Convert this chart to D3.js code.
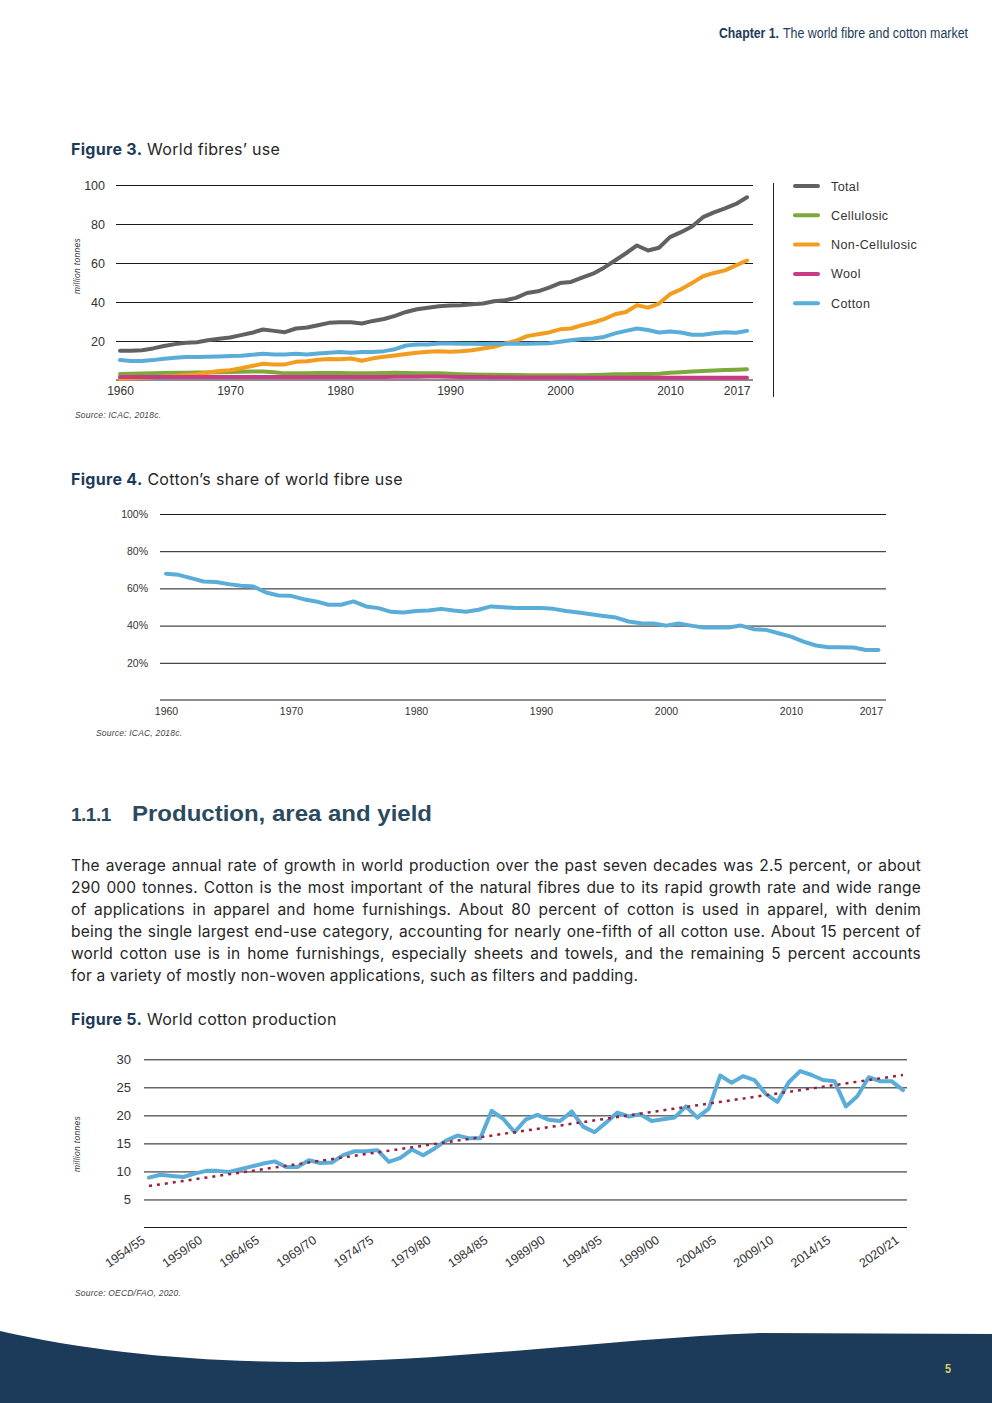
<!DOCTYPE html>
<html lang="en">
  <head>
    <meta http-equiv="Content-Type" content="text/html; charset=utf-8"/>
    <script src="https://cdn.jsdelivr.net/npm/d3@7"></script>
    <style>
body {
  margin: 0;
  background: #fff;
}
#page {
  position: relative;
  width: 992px;
  height: 1403px;
  overflow: hidden;
}
text {
  font-family: "Liberation Sans", Arial, sans-serif;
}
.tick text {
  fill: #333;
}
.tick line {
  stroke: #1a1a1a;
}
.body-text {
  font-family: Inter, "Noto Sans", sans-serif;
  fill: #262626;
}
.source {
  font-size: 8.5px;
  font-style: italic;
  fill: #444;
  letter-spacing: 0.2px;
}
    </style>
  </head>
  <body>
    <div id="page"><svg id="sheet" width="992" height="1403"></svg></div>
    <script>

// Figure 3 - world fibres' use, million tonnes, 1960..2017
var years = d3.range(1960, 2018);
var totalUse = [15.0, 15.0, 15.3, 16.2, 17.4, 18.4, 19.1, 19.4, 20.4, 21.1,
  21.8, 23.0, 24.2, 25.9, 25.2, 24.5, 26.4, 26.9, 28.1, 29.3,
  29.6, 29.6, 29.0, 30.3, 31.3, 32.9, 34.9, 36.3, 37.1, 37.8,
  38.2, 38.3, 38.8, 39.2, 40.4, 40.9, 42.1, 44.6, 45.5, 47.4,
  49.7, 50.3, 52.5, 54.5, 57.6, 61.3, 65.0, 69.0, 66.4, 67.8,
  73.3, 75.8, 78.7, 83.5, 86.0, 88.0, 90.3, 93.7];
var cellulosic = [3.1, 3.2, 3.3, 3.5, 3.6, 3.7, 3.7, 3.8, 3.9, 4.0,
  4.1, 4.2, 4.4, 4.4, 4.0, 3.4, 3.5, 3.5, 3.6, 3.6,
  3.6, 3.5, 3.4, 3.5, 3.6, 3.7, 3.6, 3.5, 3.5, 3.4,
  3.2, 3.0, 2.8, 2.7, 2.7, 2.6, 2.6, 2.5, 2.4, 2.4,
  2.4, 2.4, 2.5, 2.6, 2.7, 2.9, 3.0, 3.1, 3.1, 3.2,
  3.7, 4.0, 4.3, 4.6, 4.9, 5.1, 5.3, 5.5];
var nonCellulosic = [0.7, 0.9, 1.1, 1.4, 1.8, 2.1, 2.6, 3.0, 3.8, 4.6,
  5.0, 6.0, 7.2, 8.3, 8.0, 8.0, 9.3, 9.6, 10.4, 10.8,
  10.6, 11.0, 9.9, 11.1, 11.9, 12.6, 13.3, 14.0, 14.5, 14.7,
  14.5, 14.8, 15.3, 16.2, 17.0, 18.7, 20.1, 22.5, 23.5, 24.4,
  26.0, 26.4, 28.1, 29.5, 31.2, 33.7, 34.9, 38.3, 37.1, 39.2,
  44.0, 46.5, 49.7, 53.2, 54.9, 56.2, 58.8, 61.3];
var wool = [1.5, 1.5, 1.5, 1.5, 1.5, 1.5, 1.6, 1.6, 1.6, 1.6,
  1.6, 1.6, 1.6, 1.5, 1.5, 1.5, 1.5, 1.6, 1.6, 1.6,
  1.6, 1.6, 1.6, 1.6, 1.6, 1.7, 1.7, 1.7, 1.8, 1.8,
  1.7, 1.6, 1.5, 1.5, 1.4, 1.4, 1.3, 1.3, 1.3, 1.3,
  1.3, 1.3, 1.2, 1.2, 1.2, 1.2, 1.2, 1.2, 1.1, 1.1,
  1.1, 1.1, 1.1, 1.1, 1.1, 1.1, 1.1, 1.1];
var cottonUse = [10.2, 9.7, 9.7, 10.2, 10.9, 11.4, 11.8, 11.8, 11.9, 12.1,
  12.3, 12.4, 12.9, 13.5, 13.1, 13.1, 13.5, 13.1, 13.6, 14.0,
  14.3, 14.0, 14.3, 14.3, 14.8, 15.8, 17.7, 18.2, 18.2, 18.7,
  18.7, 18.6, 18.6, 18.5, 18.6, 18.6, 18.7, 18.6, 18.7, 18.9,
  19.6, 20.4, 21.0, 21.3, 22.1, 23.9, 25.2, 26.4, 25.6, 24.4,
  24.9, 24.4, 23.2, 23.2, 24.0, 24.5, 24.2, 25.2];
var fibreNames = ["Total", "Cellulosic", "Non-Cellulosic", "Wool", "Cotton"];
var fibreColors = ["#616161", "#7da83b", "#f29d1f", "#c93a84", "#5aadd8"];
var useTicks = [20, 40, 60, 80, 100];
var yearTicks = [1960, 1970, 1980, 1990, 2000, 2010, 2017];

// Figure 4 - cotton share of world fibre use, percent
var cottonShare = [67.9, 67.3, 65.5, 63.7, 63.4, 62.3, 61.4, 61.0, 57.8, 56.2,
  56.0, 54.2, 53.0, 51.2, 51.2, 53.0, 50.3, 49.4, 47.4, 47.0,
  47.9, 48.1, 49.0, 48.1, 47.4, 48.5, 50.3, 49.9, 49.4, 49.4,
  49.4, 49.0, 47.9, 47.0, 46.1, 45.2, 44.3, 42.2, 41.3, 41.1,
  40.0, 41.1, 40.0, 39.0, 39.0, 39.0, 40.0, 38.1, 37.7, 35.9,
  34.1, 31.4, 29.3, 28.4, 28.4, 28.2, 26.9, 26.9];
var shareTicks = [20, 40, 60, 80, 100];

// Figure 5 - world cotton production, million tonnes, 1954/55..2020/21
var seasons = d3.range(1954, 2021).map(function(y) {
  return y + "/" + String((y + 1) % 100).padStart(2, "0");
});
var production = [8.9, 9.4, 9.2, 9.0, 9.6, 10.1, 10.1, 9.9, 10.4, 10.9,
  11.4, 11.8, 10.8, 10.8, 12.0, 11.5, 11.6, 12.9, 13.6, 13.6,
  13.8, 11.7, 12.4, 13.9, 12.9, 14.1, 15.5, 16.4, 15.9, 15.9,
  20.8, 19.4, 17.0, 19.3, 20.1, 19.2, 19.0, 20.7, 18.0, 17.0,
  18.7, 20.5, 19.8, 20.2, 19.0, 19.3, 19.6, 21.6, 19.6, 21.2,
  27.1, 25.8, 27.0, 26.3, 23.8, 22.4, 25.9, 27.9, 27.2, 26.3,
  26.1, 21.6, 23.4, 26.8, 26.1, 26.1, 24.5];
var trendEnds = [7.4, 27.2];
var prodTicks = [5, 10, 15, 20, 25, 30];
var seasonTicks = ["1954/55", "1959/60", "1964/65", "1969/70", "1974/75", "1979/80",
  "1984/85", "1989/90", "1994/95", "1999/00", "2004/05", "2009/10", "2014/15", "2020/21"];

var paragraph = [
  "The average annual rate of growth in world production over the past seven decades was 2.5 percent, or about",
  "290 000 tonnes. Cotton is the most important of the natural fibres due to its rapid growth rate and wide range",
  "of applications in apparel and home furnishings. About 80 percent of cotton is used in apparel, with denim",
  "being the single largest end-use category, accounting for nearly one-fifth of all cotton use. About 15 percent of",
  "world cotton use is in home furnishings, especially sheets and towels, and the remaining 5 percent accounts",
  "for a variety of mostly non-woven applications, such as filters and padding."
];

var svg = d3.select("#sheet");
var navy = "#1c3a5a";
var condensed = "'DejaVu Sans Condensed', 'Liberation Sans Narrow', Roboto, sans-serif";

// ---- page header ----
svg.append("text")
  .attr("x", 719).attr("y", 38)
  .attr("font-family", condensed)
  .attr("font-size", 14).attr("font-weight", "bold")
  .attr("fill", navy)
  .attr("textLength", 60).attr("lengthAdjust", "spacingAndGlyphs")
  .text("Chapter 1.");
svg.append("text")
  .attr("x", 783).attr("y", 38)
  .attr("font-family", condensed)
  .attr("font-size", 14)
  .attr("fill", navy)
  .attr("textLength", 185).attr("lengthAdjust", "spacingAndGlyphs")
  .text("The world fibre and cotton market");

function figureTitle(num, rest, y) {
  var t = svg.append("text")
    .attr("class", "body-text")
    .attr("x", 71).attr("y", y)
    .attr("font-size", 16)
    .attr("letter-spacing", 0.3);
  t.append("tspan").attr("font-weight", "bold").attr("fill", navy).text("Figure " + num + ".");
  t.append("tspan").text(" " + rest);
}

function source(label, x, y) {
  svg.append("text").attr("class", "source").attr("x", x).attr("y", y).text(label);
}

function yTitle(x, y) {
  svg.append("text")
    .attr("transform", "translate(" + x + "," + y + ") rotate(-90)")
    .attr("text-anchor", "middle")
    .attr("font-size", 8.5)
    .attr("font-style", "italic")
    .attr("letter-spacing", 0.3)
    .attr("fill", "#333")
    .text("million tonnes");
}

function gridAxis(g, scale, ticks, x0, x1, fmt, fontSize, pad) {
  g.attr("transform", "translate(" + x0 + ",0)")
    .call(d3.axisLeft(scale).tickValues(ticks).tickSize(-(x1 - x0)).tickPadding(pad).tickFormat(fmt))
    .call(function(a) { a.select(".domain").remove(); })
    .call(function(a) {
      a.selectAll(".tick text").attr("font-size", fontSize)
        .attr("font-family", "'Liberation Sans', Arial, sans-serif");
    });
  svg.append("line")
    .attr("x1", x0).attr("x2", x1)
    .attr("y1", scale(0)).attr("y2", scale(0))
    .attr("stroke", "#1a1a1a");
}

// ---- Figure 3 ----
figureTitle(3, "World fibres\u2019 use", 155);

var x3 = d3.scaleLinear().domain([1960, 2017]).range([120, 747]);
var y3 = d3.scaleLinear().domain([0, 100]).range([380, 185]);

gridAxis(svg.append("g"), y3, useTicks, 116, 753, d3.format("d"), 12.5, 11);

var xa3 = svg.append("g")
  .attr("transform", "translate(0," + y3(0) + ")")
  .call(d3.axisBottom(x3).tickValues(yearTicks).tickSize(0).tickPadding(6).tickFormat(d3.format("d")));
xa3.select(".domain").remove();
xa3.selectAll(".tick text").attr("font-size", 12)
  .attr("font-family", "'Liberation Sans', Arial, sans-serif")
  .filter(function(d) { return d === 2017; })
  .attr("text-anchor", "end").attr("x", 3);

yTitle(80, 266);

var fibreSeries = [totalUse, cellulosic, nonCellulosic, wool, cottonUse];
var line3 = d3.line()
  .x(function(d, i) { return x3(years[i]); })
  .y(function(d) { return y3(d); });

svg.append("g").selectAll("path")
  .data(fibreSeries)
  .enter().append("path")
  .attr("d", line3)
  .attr("fill", "none")
  .attr("stroke", function(d, i) { return fibreColors[i]; })
  .attr("stroke-width", 4)
  .attr("stroke-linejoin", "round")
  .attr("stroke-linecap", "round");

// legend
svg.append("line")
  .attr("x1", 773.5).attr("x2", 773.5).attr("y1", 183).attr("y2", 397)
  .attr("stroke", "#222");
var legend = svg.append("g").selectAll("g")
  .data(fibreNames)
  .enter().append("g")
  .attr("transform", function(d, i) { return "translate(0," + (186 + i * 29.3) + ")"; });
legend.append("line")
  .attr("x1", 795).attr("x2", 818)
  .attr("stroke", function(d, i) { return fibreColors[i]; })
  .attr("stroke-width", 4).attr("stroke-linecap", "round");
legend.append("text")
  .attr("x", 831).attr("y", 4.5)
  .attr("font-size", 12.5)
  .attr("letter-spacing", 0.4)
  .attr("fill", "#333")
  .text(function(d) { return d; });

source("Source: ICAC, 2018c.", 75, 418);

// ---- Figure 4 ----
figureTitle(4, "Cotton\u2019s share of world fibre use", 485);

var x4 = d3.scaleLinear().domain([1960, 2017]).range([166, 878.5]);
var y4 = d3.scaleLinear().domain([0, 100]).range([700, 514]);

gridAxis(svg.append("g"), y4, shareTicks, 160, 886, function(d) { return d + "%"; }, 10.5, 12);

var xa4 = svg.append("g")
  .attr("transform", "translate(0," + y4(0) + ")")
  .call(d3.axisBottom(x4).tickValues(yearTicks).tickSize(0).tickPadding(8).tickFormat(d3.format("d")));
xa4.select(".domain").remove();
xa4.selectAll(".tick text").attr("font-size", 10.5)
  .attr("font-family", "'Liberation Sans', Arial, sans-serif")
  .filter(function(d) { return d === 2017; })
  .attr("text-anchor", "end").attr("x", 4);

svg.append("path")
  .datum(cottonShare)
  .attr("d", d3.line()
    .x(function(d, i) { return x4(years[i]); })
    .y(function(d) { return y4(d); }))
  .attr("fill", "none")
  .attr("stroke", "#5aadd8")
  .attr("stroke-width", 4)
  .attr("stroke-linejoin", "round")
  .attr("stroke-linecap", "round");

source("Source: ICAC, 2018c.", 96, 736);

// ---- section heading and body text ----
svg.append("text")
  .attr("x", 71).attr("y", 821)
  .attr("font-family", "Inter, 'Noto Sans', sans-serif")
  .attr("font-weight", "bold").attr("font-size", 19)
  .attr("letter-spacing", -0.5)
  .attr("fill", "#2b4a5e")
  .text("1.1.1");
svg.append("text")
  .attr("x", 132).attr("y", 821)
  .attr("font-family", "Inter, 'Noto Sans', sans-serif")
  .attr("font-weight", "bold").attr("font-size", 21.5)
  .attr("fill", "#2b4a5e")
  .attr("textLength", 300).attr("lengthAdjust", "spacingAndGlyphs")
  .text("Production, area and yield");

svg.append("g").selectAll("text")
  .data(paragraph)
  .enter().append("text")
  .attr("class", "body-text")
  .attr("x", 71)
  .attr("y", function(d, i) { return 870.5 + i * 22; })
  .attr("font-size", 15.5)
  .attr("letter-spacing", 0.2)
  .text(function(d) { return d; })
  .each(function(d, i) {
    if (i === paragraph.length - 1) return;
    var w = this.getComputedTextLength();
    var gaps = d.split(" ").length - 1;
    d3.select(this).attr("word-spacing", (850 - w) / gaps);
  });

// ---- Figure 5 ----
figureTitle(5, "World cotton production", 1025);

var x5 = d3.scalePoint().domain(seasons).range([149, 903]);
var y5 = d3.scaleLinear().domain([0, 30]).range([1227.5, 1059.3]);

gridAxis(svg.append("g"), y5, prodTicks, 144, 907, d3.format("d"), 13, 13);

svg.append("g").selectAll("text")
  .data(seasonTicks)
  .enter().append("text")
  .attr("transform", function(d) { return "translate(" + (x5(d) - 3) + "," + 1242 + ") rotate(-35)"; })
  .attr("text-anchor", "end")
  .attr("font-size", 12.5)
  .attr("fill", "#333")
  .text(function(d) { return d; });

yTitle(80, 1144);

svg.append("path")
  .datum(production)
  .attr("d", d3.line()
    .x(function(d, i) { return x5(seasons[i]); })
    .y(function(d) { return y5(d); }))
  .attr("fill", "none")
  .attr("stroke", "#5aadd8")
  .attr("stroke-width", 4)
  .attr("stroke-linejoin", "round")
  .attr("stroke-linecap", "round");

svg.append("line")
  .attr("x1", x5(seasons[0])).attr("y1", y5(trendEnds[0]))
  .attr("x2", x5(seasons[seasons.length - 1])).attr("y2", y5(trendEnds[1]))
  .attr("stroke", "#9b1f37")
  .attr("stroke-width", 2.5)
  .attr("stroke-dasharray", "3,5");

source("Source: OECD/FAO, 2020.", 75, 1296);

// ---- footer wave ----
svg.append("path")
  .attr("d", "M0,1331 C90,1352 200,1362 300,1362 C450,1362 620,1338 760,1333 L992,1334 L992,1403 L0,1403 Z")
  .attr("fill", navy);
svg.append("text")
  .attr("x", 948).attr("y", 1373)
  .attr("text-anchor", "middle")
  .attr("font-family", condensed)
  .attr("font-weight", "bold").attr("font-size", 13)
  .attr("fill", "#d6d16a")
  .attr("textLength", 6).attr("lengthAdjust", "spacingAndGlyphs")
  .text("5");

    </script>
  </body>
</html>
